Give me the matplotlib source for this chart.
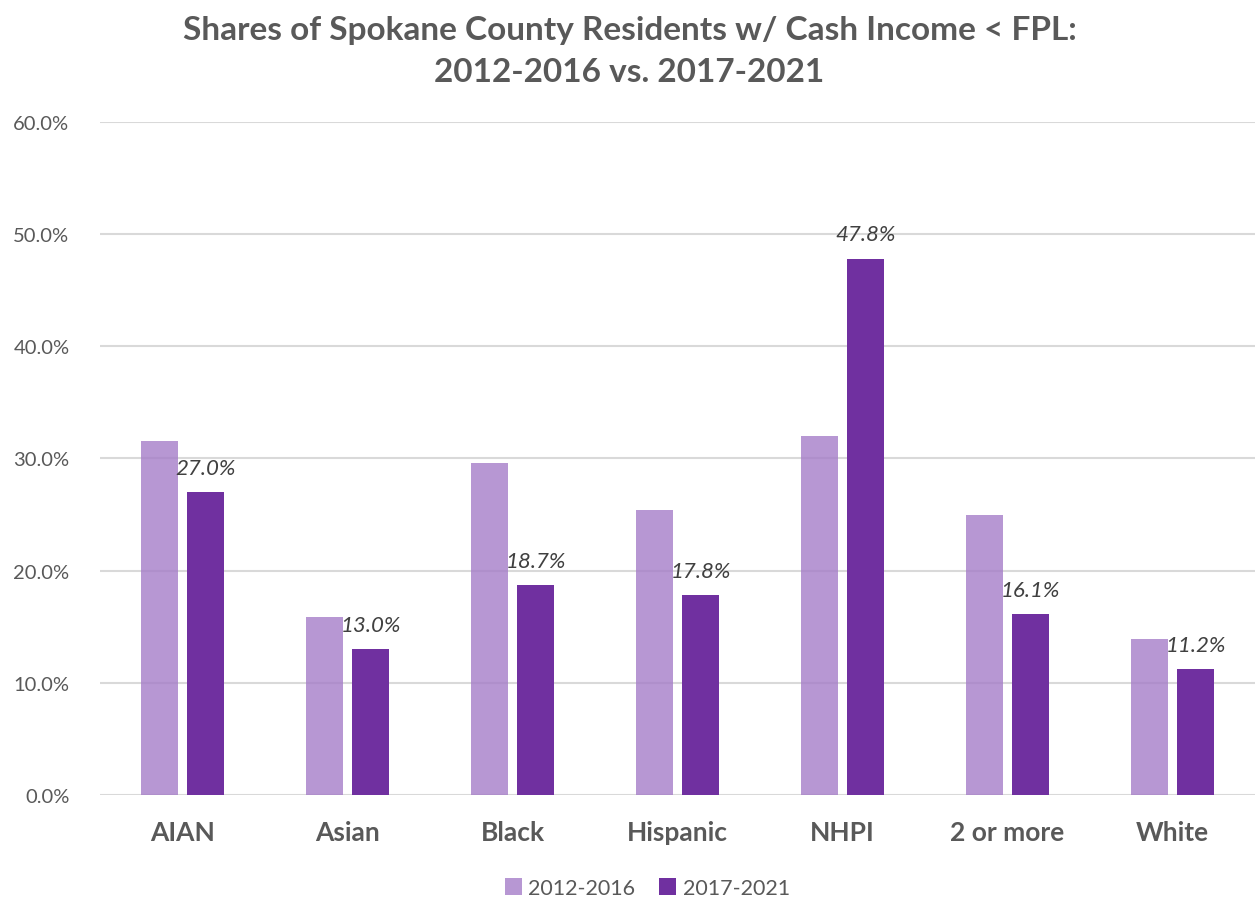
import matplotlib.pyplot as plt
import numpy as np

# Data
categories = ['AIAN', 'Asian', 'Black', 'Hispanic', 'NHPI', '2 or more', 'White']
vals_2012_2016 = [31.6, 15.9, 29.6, 25.4, 32.0, 25.0, 13.9]
vals_2017_2021 = [27.0, 13.0, 18.7, 17.8, 47.8, 16.1, 11.2]
series_names = ['2012-2016', '2017-2021']

light = '#A57DC8'
dark = '#7030A0'
grey = '#595959'

plt.rcParams['font.family'] = ['Lato', 'DejaVu Sans']

fig = plt.figure(figsize=(12.59, 9.03), dpi=100)
ax = fig.add_axes([0.0794, 0.1185, 0.9174, 0.7453])

x = np.arange(len(categories))
w = 0.224
off = 0.142
ax.bar(x - off, vals_2012_2016, w, color=light, alpha=0.8, label=series_names[0], zorder=3)
ax.bar(x + off, vals_2017_2021, w, color=dark, label=series_names[1], zorder=2)

for xi, v in zip(x, vals_2017_2021):
    ax.text(xi + off, v + 1.3, f'{v:.1f}%', ha='center', va='bottom', fontsize=16,
            style='italic', color='#404040', zorder=4)

ax.set_xlim(-0.5, len(categories) - 0.5)
ax.set_ylim(0, 60)
ax.set_yticks(np.arange(0, 61, 10))
ax.set_yticklabels([f'{t:.1f}%' for t in np.arange(0, 61, 10)], fontsize=14.5, color=grey)
ax.set_xticks(x)
ax.set_xticklabels(categories, fontsize=19, fontweight='bold', color=grey)
ax.tick_params(axis='both', length=0)
ax.tick_params(axis='y', pad=22)
ax.tick_params(axis='x', pad=18)
ax.grid(axis='y', color='#D9D9D9', linewidth=1.5, zorder=0)
for s in ax.spines.values():
    s.set_visible(False)

fig.suptitle('Shares of Spokane County Residents w/ Cash Income < FPL:\n2012-2016 vs. 2017-2021',
             fontsize=24, fontweight='bold', color=grey, y=0.982, linespacing=1.55)

fig.legend(loc='center', bbox_to_anchor=(0.514, 0.0155), ncol=2, frameon=False,
           fontsize=15.5, labelcolor=grey, handlelength=0.8, handleheight=0.8,
           columnspacing=1.1, handletextpad=0.3, borderpad=0)

fig.savefig('out.png', dpi=100)
